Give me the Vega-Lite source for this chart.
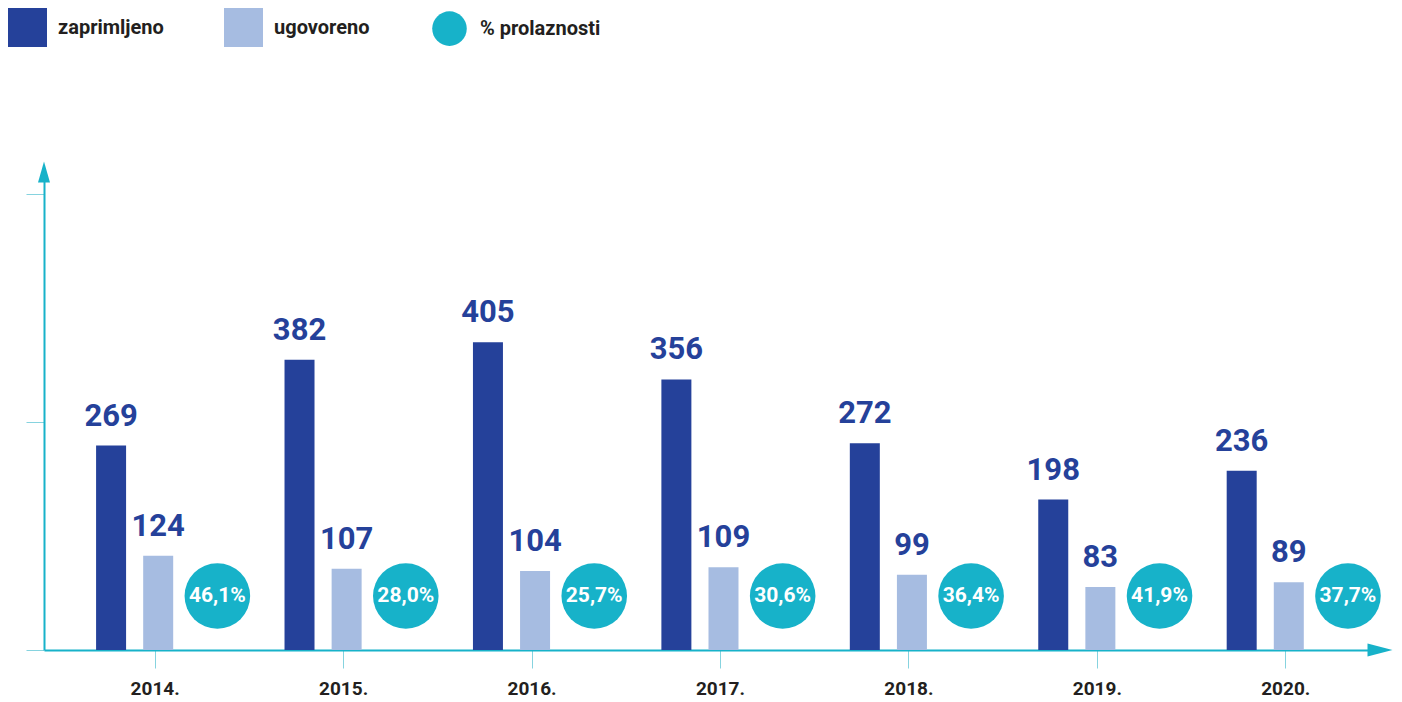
{
  "$schema": "https://vega.github.io/schema/vega-lite/v6.json",
  "width": 1336,
  "height": 478,
  "autosize": {"type": "none"},
  "padding": {"left": 44, "top": 172, "right": 22, "bottom": 52},
  "background": "white",
  "config": {
    "view": {"stroke": null},
    "font": "Roboto",
    "locale": {"number": {"decimal": ",", "thousands": ".", "grouping": [3], "currency": ["", " kn"]}}
  },
  "data": {
    "values": [
      {"godina": "2014.", "serija": "zaprimljeno", "vrijednost": 269},
      {"godina": "2014.", "serija": "ugovoreno", "vrijednost": 124},
      {"godina": "2014.", "serija": "% prolaznosti", "vrijednost": 0.461},
      {"godina": "2015.", "serija": "zaprimljeno", "vrijednost": 382},
      {"godina": "2015.", "serija": "ugovoreno", "vrijednost": 107},
      {"godina": "2015.", "serija": "% prolaznosti", "vrijednost": 0.280},
      {"godina": "2016.", "serija": "zaprimljeno", "vrijednost": 405},
      {"godina": "2016.", "serija": "ugovoreno", "vrijednost": 104},
      {"godina": "2016.", "serija": "% prolaznosti", "vrijednost": 0.257},
      {"godina": "2017.", "serija": "zaprimljeno", "vrijednost": 356},
      {"godina": "2017.", "serija": "ugovoreno", "vrijednost": 109},
      {"godina": "2017.", "serija": "% prolaznosti", "vrijednost": 0.306},
      {"godina": "2018.", "serija": "zaprimljeno", "vrijednost": 272},
      {"godina": "2018.", "serija": "ugovoreno", "vrijednost": 99},
      {"godina": "2018.", "serija": "% prolaznosti", "vrijednost": 0.364},
      {"godina": "2019.", "serija": "zaprimljeno", "vrijednost": 198},
      {"godina": "2019.", "serija": "ugovoreno", "vrijednost": 83},
      {"godina": "2019.", "serija": "% prolaznosti", "vrijednost": 0.419},
      {"godina": "2020.", "serija": "zaprimljeno", "vrijednost": 236},
      {"godina": "2020.", "serija": "ugovoreno", "vrijednost": 89},
      {"godina": "2020.", "serija": "% prolaznosti", "vrijednost": 0.377}
    ]
  },
  "encoding": {
    "x": {
      "field": "godina",
      "type": "ordinal",
      "scale": {"paddingInner": 0, "paddingOuter": 0.045, "align": 1},
      "axis": {
        "title": null,
        "labelAngle": 0,
        "domain": true,
        "domainColor": "#17b2c9",
        "domainWidth": 2,
        "ticks": true,
        "tickColor": "#86d3df",
        "tickWidth": 1,
        "tickSize": 18,
        "labelFont": "Roboto",
        "labelFontWeight": "bold",
        "labelFontSize": 19,
        "labelColor": "#231f20",
        "labelPadding": 11
      }
    }
  },
  "resolve": {"scale": {"xOffset": "independent"}},
  "layer": [
    {
      "transform": [{"filter": "datum.serija !== '% prolaznosti'"}],
      "encoding": {
        "xOffset": {
          "field": "serija",
          "type": "nominal",
          "scale": {"domain": ["zaprimljeno", "ugovoreno"], "paddingInner": 0, "paddingOuter": 1.049, "align": 0.282}
        }
      },
      "layer": [
        {
          "mark": {"type": "bar", "width": 30},
          "encoding": {
            "y": {
              "field": "vrijednost",
              "type": "quantitative",
              "scale": {"domain": [0, 629], "nice": false},
              "axis": {
                "title": null,
                "values": [0, 300, 600],
                "labels": false,
                "grid": false,
                "domain": true,
                "domainColor": "#17b2c9",
                "domainWidth": 2,
                "tickColor": "#86d3df",
                "tickWidth": 1,
                "tickSize": 18
              }
            },
            "color": {
              "field": "serija",
              "type": "nominal",
              "scale": {"domain": ["zaprimljeno", "ugovoreno", "% prolaznosti"], "range": ["#25419a", "#a6bce1", "#17b2c9"]},
              "legend": {
                "title": null,
                "orient": "none",
                "direction": "horizontal",
                "legendX": -36,
                "legendY": -164,
                "padding": 0,
                "symbolSize": 1521,
                "symbolType": "square",
                "symbolStrokeWidth": 0,
                "symbolOpacity": 1,
                "labelFont": "Roboto",
                "labelFontWeight": "bold",
                "labelFontSize": 20,
                "labelColor": "#231f20",
                "labelOffset": 11,
                "columnPadding": 60,
                "encode": {
                  "symbols": {
                    "update": {
                      "shape": {"signal": "datum.value === '% prolaznosti' ? 'circle' : 'square'"},
                      "size": {"signal": "datum.value === '% prolaznosti' ? 1195 : 1521"}
                    }
                  }
                }
              }
            }
          }
        },
        {
          "mark": {"type": "text", "baseline": "alphabetic", "dy": -20, "font": "Roboto", "fontWeight": "bold", "fontSize": 31, "color": "#25419a"},
          "encoding": {
            "y": {"field": "vrijednost", "type": "quantitative"},
            "text": {"field": "vrijednost", "type": "quantitative"}
          }
        }
      ]
    },
    {
      "transform": [{"filter": "datum.serija === '% prolaznosti'"}],
      "encoding": {
        "xOffset": {
          "field": "serija",
          "type": "nominal",
          "scale": {"domain": ["% prolaznosti"], "paddingInner": 0, "paddingOuter": 1, "align": 0.83}
        },
        "y": {"datum": 71}
      },
      "layer": [
        {
          "mark": {"type": "circle", "size": 4300, "opacity": 1},
          "encoding": {
            "color": {"field": "serija", "type": "nominal"}
          }
        },
        {
          "mark": {"type": "text", "baseline": "middle", "font": "Roboto", "fontWeight": "bold", "fontSize": 21, "color": "white"},
          "encoding": {
            "text": {"field": "vrijednost", "type": "quantitative", "format": ".1%"}
          }
        }
      ]
    },
    {
      "data": {"values": [{"strelica": "y"}]},
      "mark": {"type": "point", "shape": "M0,-1L0.57,1L-0.57,1Z", "size": 441, "filled": true, "opacity": 1, "color": "#17b2c9"},
      "encoding": {
        "x": {"value": 0},
        "y": {"datum": 629}
      }
    },
    {
      "data": {"values": [{"strelica": "x"}]},
      "mark": {"type": "point", "shape": "M1,0L-1,0.52L-1,-0.52Z", "size": 625, "filled": true, "opacity": 1, "color": "#17b2c9"},
      "encoding": {
        "x": {"value": {"expr": "width"}},
        "y": {"datum": 0}
      }
    }
  ]
}
